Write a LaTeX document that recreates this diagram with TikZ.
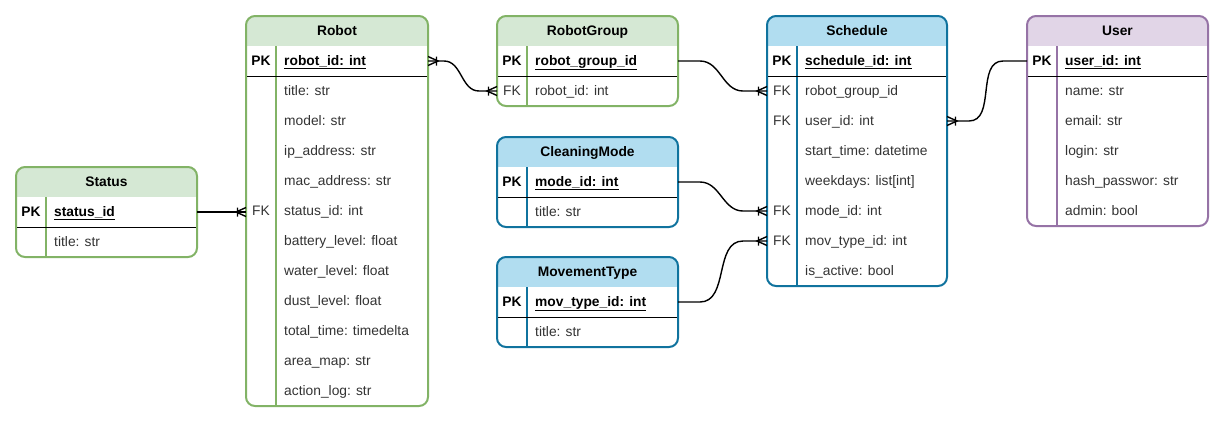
\documentclass[tikz,border=0pt]{standalone}
\usepackage{fontspec}
\setmainfont{Liberation Sans}
\usetikzlibrary{calc}
\definecolor{grnline}{HTML}{82B366}
\definecolor{grnfill}{HTML}{D5E8D4}
\definecolor{bluline}{HTML}{10739E}
\definecolor{blufill}{HTML}{B1DDF0}
\definecolor{purline}{HTML}{9673A6}
\definecolor{purfill}{HTML}{E1D5E7}
\definecolor{txtgray}{HTML}{333333}

% crow's foot with bar (one to many)
\pgfdeclarearrow{
  name=crow,
  setup code={
    \pgfarrowssettipend{0pt}
    \pgfarrowssetlineend{0pt}
    \pgfarrowssetbackend{-11pt}
    \pgfarrowssetvisualbackend{-11pt}
    \pgfarrowshullpoint{0pt}{4.5pt}
    \pgfarrowshullpoint{0pt}{-4.5pt}
    \pgfarrowshullpoint{-11pt}{4.5pt}
    \pgfarrowshullpoint{-11pt}{-4.5pt}
  },
  drawing code={
    \pgfsetdash{}{0pt}
    \pgfpathmoveto{\pgfqpoint{0pt}{4.5pt}}
    \pgfpathlineto{\pgfqpoint{-10pt}{0pt}}
    \pgfpathlineto{\pgfqpoint{0pt}{-4.5pt}}
    \pgfpathmoveto{\pgfqpoint{-8.5pt}{4.5pt}}
    \pgfpathlineto{\pgfqpoint{-8.5pt}{-4.5pt}}
    \pgfusepathqstroke
  }
}

\tikzset{
  entity/.style={draw=#1line, line width=2pt, rounded corners=9pt, fill=white,
    anchor=north west, inner sep=0pt, outer sep=0pt,
    path picture={\fill[#1fill, sharp corners] (path picture bounding box.north west)
      rectangle ([yshift=-30pt]path picture bounding box.north east);}},
  title/.style={font=\fontsize{13.8}{16}\selectfont\bfseries, inner sep=0pt,
    text height=10pt, text depth=1.5pt},
  key/.style={inner sep=0pt, text height=10pt, text depth=1.5pt, text=txtgray},
  pkkey/.style={key, text=black, font=\fontsize{13.8}{16}\selectfont\bfseries},
  attr/.style={anchor=west, inner sep=0pt, text height=10pt, text depth=1.5pt, text=txtgray},
  pkey/.style={attr, text=black, font=\fontsize{13.8}{16}\selectfont\bfseries},
  col/.style={draw=#1line, line width=2pt},
  sep/.style={draw=black, line width=0.8pt},
  conn/.style={draw=black, line width=1.4pt}
}

\begin{document}
\begin{tikzpicture}[x=1pt,y=-1pt,font=\fontsize{13.8}{16}\selectfont]
    \useasboundingbox (0,0) rectangle (1225,424);

    % Status
    \node[entity=grn, minimum width=181pt, minimum height=90pt] (status) at (16,167) {};
    \node[title] (status-t) at (106.5,182) {Status};
    \draw[col=grn] (46,197) -- (46,257);
    \draw[sep] (17,227) -- (196,227);
    \node[pkkey] (status-k) at (31,212) {PK};
    \node[pkey] (status-0) at (54,212) {\underline{status\_id}};
    \node[attr] (status-1) at (54,242) {title: str};

    % Robot
    \node[entity=grn, minimum width=182pt, minimum height=390pt] (robot) at (246,16) {};
    \node[title] (robot-t) at (337,31) {Robot};
    \draw[col=grn] (276,46) -- (276,406);
    \draw[sep] (247,76) -- (427,76);
    \node[pkkey] (robot-k) at (261,61) {PK};
    \node[pkey] (robot-0) at (284,61) {\underline{robot\_id: int}};
    \foreach \t [count=\i] in {title: str, model: str, ip\_address: str, mac\_address: str,
        status\_id: int, battery\_level: float, water\_level: float, dust\_level: float,
        total\_time: timedelta, area\_map: str, action\_log: str}
      \node[attr] (robot-\i) at (284,61+30*\i) {\t};
    \node[key] (robot-k5) at (261,211) {FK};

    % RobotGroup
    \node[entity=grn, minimum width=181pt, minimum height=90pt] (group) at (497,16) {};
    \node[title] (group-t) at (587.5,31) {RobotGroup};
    \draw[col=grn] (527,46) -- (527,106);
    \draw[sep] (498,76) -- (677,76);
    \node[pkkey] (group-k) at (512,61) {PK};
    \node[pkey] (group-0) at (535,61) {\underline{robot\_group\_id}};
    \node[key] (group-k1) at (512,91) {FK};
    \node[attr] (group-1) at (535,91) {robot\_id: int};

    % CleaningMode
    \node[entity=blu, minimum width=181pt, minimum height=90pt] (mode) at (497,137) {};
    \node[title] (mode-t) at (587.5,152) {CleaningMode};
    \draw[col=blu] (527,167) -- (527,227);
    \draw[sep] (498,197) -- (677,197);
    \node[pkkey] (mode-k) at (512,182) {PK};
    \node[pkey] (mode-0) at (535,182) {\underline{mode\_id: int}};
    \node[attr] (mode-1) at (535,212) {title: str};

    % MovementType
    \node[entity=blu, minimum width=181pt, minimum height=90pt] (movtype) at (497,257) {};
    \node[title] (movtype-t) at (587.5,272) {MovementType};
    \draw[col=blu] (527,287) -- (527,347);
    \draw[sep] (498,317) -- (677,317);
    \node[pkkey] (movtype-k) at (512,302) {PK};
    \node[pkey] (movtype-0) at (535,302) {\underline{mov\_type\_id: int}};
    \node[attr] (movtype-1) at (535,332) {title: str};

    % Schedule
    \node[entity=blu, minimum width=180pt, minimum height=270pt] (sched) at (767,16) {};
    \node[title] (sched-t) at (857,31) {Schedule};
    \draw[col=blu] (797,46) -- (797,286);
    \draw[sep] (768,76) -- (946,76);
    \node[pkkey] (sched-k) at (782,61) {PK};
    \node[pkey] (sched-0) at (805,61) {\underline{schedule\_id: int}};
    \foreach \t [count=\i] in {robot\_group\_id, user\_id: int, start\_time: datetime,
        weekdays: list[int], mode\_id: int, mov\_type\_id: int, is\_active: bool}
      \node[attr] (sched-\i) at (805,61+30*\i) {\t};
    \foreach \i in {1,2,5,6}
      \node[key] (sched-k\i) at (782,61+30*\i) {FK};

    % User
    \node[entity=pur, minimum width=181pt, minimum height=210pt] (user) at (1027,16) {};
    \node[title] (user-t) at (1117.5,31) {User};
    \draw[col=pur] (1057,46) -- (1057,226);
    \draw[sep] (1028,76) -- (1207,76);
    \node[pkkey] (user-k) at (1042,61) {PK};
    \node[pkey] (user-0) at (1065,61) {\underline{user\_id: int}};
    \foreach \t [count=\i] in {name: str, email: str, login: str, hash\_passwor: str, admin: bool}
      \node[attr] (user-\i) at (1065,61+30*\i) {\t};

    % Relations
    \draw[conn,-crow] (status-0 -| status.east) -- (status-0 -| robot.west);
    \draw[conn,crow-crow] (robot-0 -| robot.east) -- ++(16,0)
      to[out=0,in=180] ($(group-1 -| group.west)+(-18,0)$) -- (group-1 -| group.west);
    \draw[conn,-crow] (group-0 -| group.east) -- ++(22,0)
      to[out=0,in=180] ($(sched-1 -| sched.west)+(-24,0)$) -- (sched-1 -| sched.west);
    \draw[conn,-crow] (mode-0 -| mode.east) -- ++(22,0)
      to[out=0,in=180] ($(sched-5 -| sched.west)+(-24,0)$) -- (sched-5 -| sched.west);
    \draw[conn,-crow] (movtype-0 -| movtype.east) -- ++(22,0)
      to[out=0,in=180] ($(sched-6 -| sched.west)+(-24,0)$) -- (sched-6 -| sched.west);
    \draw[conn,-crow] (user-0 -| user.west) -- ++(-24,0)
      to[out=180,in=0] ($(sched-2 -| sched.east)+(22,0)$) -- (sched-2 -| sched.east);
\end{tikzpicture}
\end{document}
